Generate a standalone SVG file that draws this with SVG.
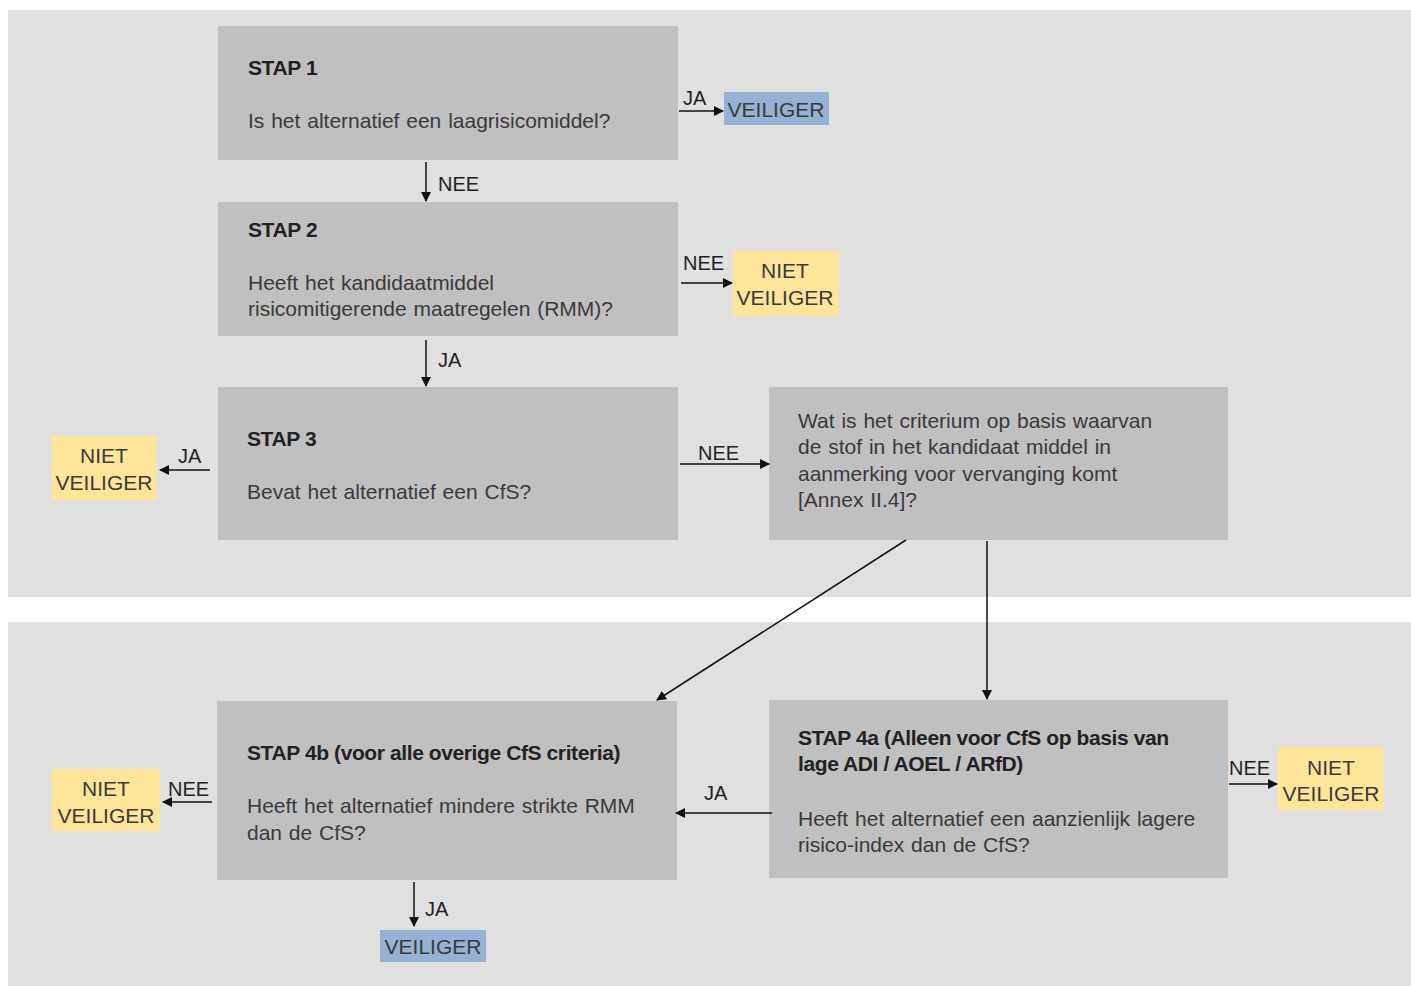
<svg xmlns="http://www.w3.org/2000/svg" width="1411" height="986" viewBox="0 0 1411 986">
<style>
text{font-family:"Liberation Sans",Arial,sans-serif;font-size:21px;fill:#3a3a3a;word-spacing:1px}
.t{font-weight:bold;fill:#222;font-size:21px;letter-spacing:-0.4px;word-spacing:0}
.lbl{fill:#222;font-size:20px}
.box{fill:#c0c0c0}
.blue{fill:#95b1d4}
.yel{fill:#ffe599}
.c{text-anchor:middle}
.cn{fill:none;stroke:#111;stroke-width:1.5}
</style>
<defs>
<marker id="ah" viewBox="0 0 10 10" refX="9" refY="5" markerWidth="10" markerHeight="10" markerUnits="userSpaceOnUse" orient="auto">
<path d="M0,0 L10,5 L0,10 z" fill="#111"/>
</marker>
</defs>
<rect x="0" y="0" width="1411" height="986" fill="#fff"/>
<rect x="8" y="10" width="1403" height="587" fill="#e0e0e0"/>
<rect x="8" y="622" width="1403" height="364" fill="#e0e0e0"/>

<g id="stap1"><rect class="box" x="218" y="26" width="460" height="134"/>
<text class="t" x="248" y="75">STAP 1</text>
<text x="248" y="128">Is het alternatief een laagrisicomiddel?</text></g>

<g id="veiliger1"><rect class="blue" x="724" y="92" width="105" height="33"/>
<text class="c" x="776" y="117" fill="#2d3a4d">VEILIGER</text></g>

<g id="stap2"><rect class="box" x="218" y="202" width="460" height="134"/>
<text class="t" x="248" y="237">STAP 2</text>
<text x="248" y="290">Heeft het kandidaatmiddel</text>
<text x="248" y="316">risicomitigerende maatregelen (RMM)?</text></g>

<g id="niet1"><rect class="yel" x="733" y="251" width="106" height="65"/>
<text class="c" x="785" y="278">NIET</text>
<text class="c" x="785" y="305">VEILIGER</text></g>

<g id="stap3"><rect class="box" x="218" y="387" width="460" height="153"/>
<text class="t" x="247" y="446">STAP 3</text>
<text x="247" y="499">Bevat het alternatief een CfS?</text></g>

<g id="criterium"><rect class="box" x="769" y="387" width="459" height="153"/>
<text x="798" y="428">Wat is het criterium op basis waarvan</text>
<text x="798" y="454">de stof in het kandidaat middel in</text>
<text x="798" y="481">aanmerking voor vervanging komt</text>
<text x="798" y="507">[Annex II.4]?</text></g>

<g id="niet2"><rect class="yel" x="52" y="436" width="105" height="64"/>
<text class="c" x="104" y="463">NIET</text>
<text class="c" x="104" y="490">VEILIGER</text></g>

<g id="stap4b"><rect class="box" x="217" y="701" width="460" height="179"/>
<text class="t" x="247" y="760">STAP 4b (voor alle overige CfS criteria)</text>
<text x="247" y="813">Heeft het alternatief mindere strikte RMM</text>
<text x="247" y="840">dan de CfS?</text></g>

<g id="stap4a"><rect class="box" x="769" y="700" width="459" height="178"/>
<text class="t" x="798" y="745">STAP 4a (Alleen voor CfS op basis van</text>
<text class="t" x="798" y="771">lage ADI / AOEL / ARfD)</text>
<text x="798" y="826">Heeft het alternatief een aanzienlijk lagere</text>
<text x="798" y="852">risico-index dan de CfS?</text></g>

<g id="niet3"><rect class="yel" x="52" y="769" width="108" height="62"/>
<text class="c" x="106" y="796">NIET</text>
<text class="c" x="106" y="823">VEILIGER</text></g>

<g id="niet4"><rect class="yel" x="1278" y="747" width="106" height="63"/>
<text class="c" x="1331" y="775">NIET</text>
<text class="c" x="1331" y="801">VEILIGER</text></g>

<g id="veiliger2"><rect class="blue" x="380" y="930" width="106" height="32"/>
<text class="c" x="433" y="954" fill="#2d3a4d">VEILIGER</text></g>

<g id="connectors">
<line class="cn" x1="679" y1="111" x2="723" y2="111" marker-end="url(#ah)"/>
<text class="lbl" x="683" y="105">JA</text>
<line class="cn" x1="426" y1="162" x2="426" y2="201" marker-end="url(#ah)"/>
<text class="lbl" x="438" y="191">NEE</text>
<line class="cn" x1="681" y1="283" x2="732" y2="283" marker-end="url(#ah)"/>
<text class="lbl" x="683" y="270">NEE</text>
<line class="cn" x1="426" y1="340" x2="426" y2="386" marker-end="url(#ah)"/>
<text class="lbl" x="438" y="367">JA</text>
<line class="cn" x1="210" y1="470" x2="160" y2="470" marker-end="url(#ah)"/>
<text class="lbl" x="178" y="463">JA</text>
<line class="cn" x1="680" y1="464" x2="769" y2="464" marker-end="url(#ah)"/>
<text class="lbl" x="698" y="460">NEE</text>
<line class="cn" x1="906" y1="540" x2="657" y2="700" marker-end="url(#ah)"/>
<line class="cn" x1="987" y1="541" x2="987" y2="699" marker-end="url(#ah)"/>
<line class="cn" x1="772" y1="813" x2="676" y2="813" marker-end="url(#ah)"/>
<text class="lbl" x="704" y="800">JA</text>
<line class="cn" x1="212" y1="802" x2="163" y2="802" marker-end="url(#ah)"/>
<text class="lbl" x="168" y="796">NEE</text>
<line class="cn" x1="1229" y1="784" x2="1277" y2="784" marker-end="url(#ah)"/>
<text class="lbl" x="1229" y="775">NEE</text>
<line class="cn" x1="414" y1="882" x2="414" y2="926" marker-end="url(#ah)"/>
<text class="lbl" x="425" y="916">JA</text>
</g>
</svg>
